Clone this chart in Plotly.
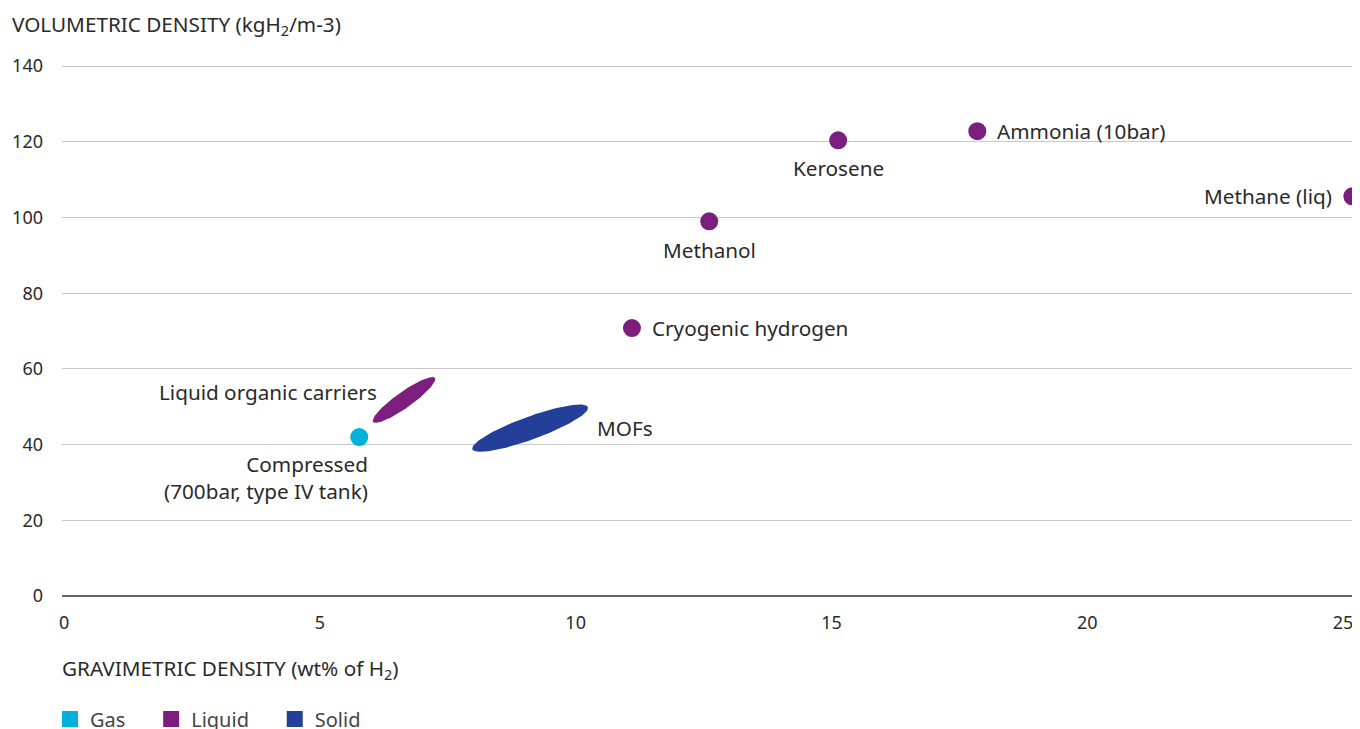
import numpy as np
import plotly.graph_objects as go

# ---------------- data ----------------
point_names = ["Compressed<br>(700bar, type IV tank)", "Cryogenic hydrogen", "Methanol",
               "Kerosene", "Ammonia (10bar)", "Methane (liq)"]
point_category = ["Gas", "Liquid", "Liquid", "Liquid", "Liquid", "Liquid"]
point_grav = [5.77, 11.10, 12.61, 15.13, 17.85, 25.18]
point_vol = [42.0, 70.8, 99.0, 120.4, 122.8, 105.6]

region_names = ["Liquid organic carriers", "MOFs"]
region_category = ["Liquid", "Solid"]
region_grav_min = [6.04, 7.98]
region_grav_max = [7.25, 10.24]
region_vol_min = [46.0, 38.8]
region_vol_max = [57.6, 49.9]

categories = ["Gas", "Liquid", "Solid"]
x_ticks = [0, 5, 10, 15, 20, 25]
y_ticks = [0, 20, 40, 60, 80, 100, 120, 140]

# ---------------- styles ----------------
colors = {"Gas": "#00b1dc", "Liquid": "#7b1e7e", "Solid": "#233f99"}
FONT = "Noto Sans"
TXT = "#2a2a2a"
FS = 20.7
TFS = 18
LFS = 20

# page body has an 8px margin -> figure is drawn 8px in from the window edge
W, H = 1352, 721
X0, X1 = -0.04, 25.33
Y0, Y1 = 0, 140.3
ML, MR = 54, 0
MB = 133
PH_PER_UNIT = 530 / 140
PH = (Y1 - Y0) * PH_PER_UNIT
MT = H - MB - PH
PW = W - ML - MR
sx = PW / (X1 - X0)
sy = PH / (Y1 - Y0)
region_thickness_px = [16, 23]

fig = go.Figure()

# ellipses (regions) built in pixel space to keep proper shape
for name, cat, x0, x1, y0, y1, th in zip(region_names, region_category, region_grav_min,
                                        region_grav_max, region_vol_min, region_vol_max,
                                        region_thickness_px):
    p0 = np.array([x0 * sx, y0 * sy])
    p1 = np.array([x1 * sx, y1 * sy])
    c = (p0 + p1) / 2
    d = p1 - p0
    a = np.linalg.norm(d) / 2
    u = d / np.linalg.norm(d)
    v = np.array([-u[1], u[0]])
    t = np.linspace(0, 2 * np.pi, 160)
    pts = c[None, :] + (a * np.cos(t))[:, None] * u[None, :] + (th / 2 * np.sin(t))[:, None] * v[None, :]
    fig.add_trace(go.Scatter(x=pts[:, 0] / sx, y=pts[:, 1] / sy, mode="lines", fill="toself",
                             fillcolor=colors[cat], line=dict(width=0, color=colors[cat]),
                             showlegend=False, hoverinfo="skip", name=name))

# points
for cat in categories:
    xs = [x for x, c in zip(point_grav, point_category) if c == cat]
    ys = [y for y, c in zip(point_vol, point_category) if c == cat]
    if xs:
        fig.add_trace(go.Scatter(x=xs, y=ys, mode="markers", cliponaxis=False,
                                 marker=dict(size=18, color=colors[cat]), showlegend=False))

# legend entries (padding with no-break spaces to widen gaps between entries)
for cat in categories:
    fig.add_trace(go.Scatter(x=[None], y=[None], mode="markers", name=cat + "\u00a0" * 4,
                             marker=dict(size=17, symbol="square", color=colors[cat])))

# point labels
label_pos = {
    "Compressed<br>(700bar, type IV tank)": dict(xanchor="right", yanchor="top", xshift=11, yshift=-11, align="right"),
    "Cryogenic hydrogen": dict(xanchor="left", yanchor="middle", xshift=18, yshift=0),
    "Methanol": dict(xanchor="center", yanchor="middle", xshift=0, yshift=-29),
    "Kerosene": dict(xanchor="center", yanchor="middle", xshift=0, yshift=-28),
    "Ammonia (10bar)": dict(xanchor="left", yanchor="middle", xshift=18, yshift=0),
    "Methane (liq)": dict(xanchor="right", yanchor="middle", xshift=-18, yshift=0),
}
for n, x, y in zip(point_names, point_grav, point_vol):
    fig.add_annotation(x=x, y=y, text=n, showarrow=False, font=dict(family=FONT, size=FS, color=TXT),
                       **label_pos[n])

region_label_pos = {
    "Liquid organic carriers": dict(xanchor="right", yanchor="middle", xshift=-25, yshift=8),
    "MOFs": dict(xanchor="left", yanchor="middle", xshift=65, yshift=0),
}
for n, x0, x1, y0, y1 in zip(region_names, region_grav_min, region_grav_max, region_vol_min, region_vol_max):
    fig.add_annotation(x=(x0 + x1) / 2, y=(y0 + y1) / 2, text=n, showarrow=False,
                       font=dict(family=FONT, size=FS, color=TXT), **region_label_pos[n])

def px_to_paper_x(px):
    return (px - ML) / PW

def px_to_paper_y(py):
    return (H - MB - py) / PH

fig.add_annotation(xref="paper", yref="paper", x=px_to_paper_x(2), y=px_to_paper_y(17),
                   xanchor="left", yanchor="middle", showarrow=False,
                   text="VOLUMETRIC DENSITY (kgH<sub>2</sub>/m-3)",
                   font=dict(family=FONT, size=FS, color=TXT))
fig.add_annotation(xref="paper", yref="paper", x=px_to_paper_x(52), y=px_to_paper_y(661),
                   xanchor="left", yanchor="middle", showarrow=False,
                   text="GRAVIMETRIC DENSITY (wt% of H<sub>2</sub>)",
                   font=dict(family=FONT, size=FS, color=TXT))

fig.update_layout(
    width=W, height=H,
    margin=dict(l=ML, r=MR, t=MT, b=MB, pad=0, autoexpand=False),
    paper_bgcolor="white", plot_bgcolor="white",
    font=dict(family=FONT, size=FS, color=TXT),
    showlegend=True,
    legend=dict(orientation="h", x=px_to_paper_x(42), y=px_to_paper_y(711), xanchor="left",
                yanchor="middle", font=dict(family=FONT, size=LFS, color="#444"),
                bgcolor="rgba(0,0,0,0)", borderwidth=0),
    xaxis=dict(range=[X0, X1], tickvals=x_ticks, ticktext=[str(v) for v in x_ticks],
               showgrid=False, zeroline=False, showline=False, ticks="", ticklabelstandoff=14,
               tickfont=dict(family=FONT, size=TFS, color=TXT), fixedrange=True),
    yaxis=dict(range=[Y0, Y1], tickvals=y_ticks, ticktext=[str(v) for v in y_ticks],
               showgrid=True, gridcolor="#c8c8c8", gridwidth=1,
               zeroline=True, zerolinecolor="#666666", zerolinewidth=1.5,
               showline=False, ticks="", ticklabelstandoff=18,
               tickfont=dict(family=FONT, size=TFS, color=TXT), fixedrange=True),
)

fig.write_html("out.html")
